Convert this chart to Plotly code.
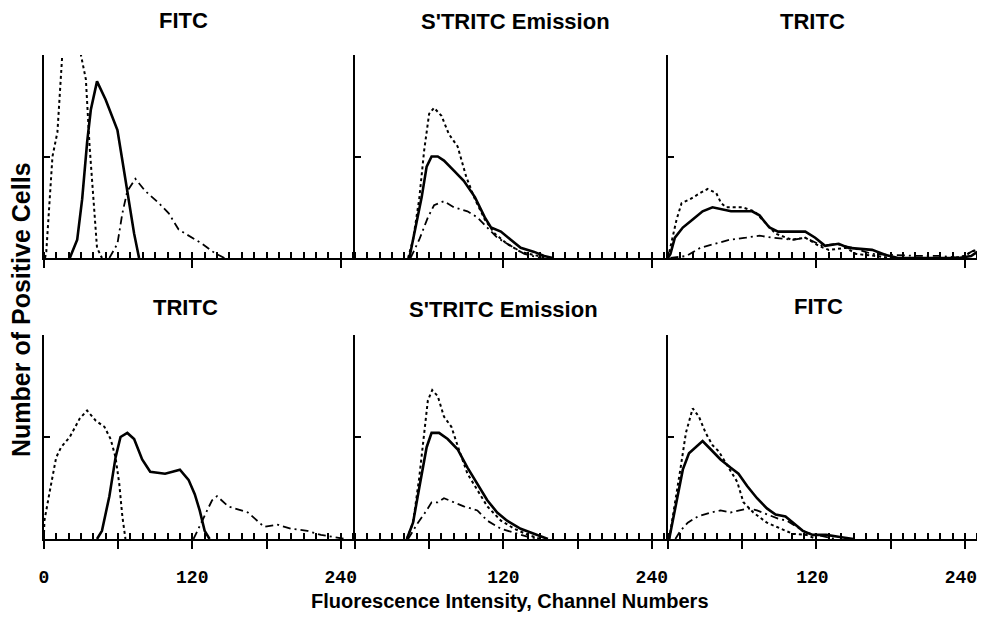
import plotly.graph_objects as go

# ---------------- data (channel number, relative cell count) ----------------
titles = ["FITC", "S'TRITC Emission", "TRITC", "TRITC", "S'TRITC Emission", "FITC"]

# Panel 1: top-left FITC
p1_dot_x = [1, 2, 7, 11, 15, 22, 30, 34, 37, 41, 43, 47]
p1_dot_y = [0, 3, 50, 62, 101, 140, 100, 88, 55, 20, 5, 0]
p1_sol_x = [21, 27, 31, 35, 38, 43, 50, 55, 59.5, 63.5, 67.5, 73, 77]
p1_sol_y = [0, 9, 29, 57, 73, 87, 78, 70, 63, 48, 32, 12, 0]
p1_dd_x = [53, 59.5, 63.5, 67.5, 74, 82, 93, 101, 109, 120, 128, 138, 146]
p1_dd_y = [0, 7, 22, 33, 39, 33, 27, 22, 14, 10, 7, 2.5, 0]

# Panel 2: top-middle S'TRITC Emission
p2_dot_x = [43, 47, 52, 56, 60, 64, 70, 76, 83, 90, 97, 105, 113, 123, 134, 148, 155]
p2_dot_y = [0, 9, 29, 53, 71, 74, 70, 61, 55, 40, 29, 19, 12, 7, 3, 1, 0]
p2_sol_x = [44, 48, 54, 58, 62, 67, 72, 80, 88, 97, 105, 110, 118, 126, 134, 145, 153, 160]
p2_sol_y = [0, 12, 30, 45, 50, 50, 48, 43, 38, 30, 20, 15, 13, 9, 5, 3, 1, 0]
p2_dd_x = [45, 52, 59, 64, 72, 80, 91, 99, 107, 115, 126, 137, 150]
p2_dd_y = [0, 9, 20, 26, 28, 25, 23, 20, 15, 10, 6, 2, 0]

# Panel 3: top-right TRITC
p3_dot_x = [0, 2, 7, 11, 18, 26, 32, 39, 43, 47, 60, 70, 79, 87, 100, 111, 122, 130, 144, 152, 168, 180, 230, 240, 245, 250]
p3_dot_y = [0, 5, 19, 27, 29, 32, 34, 32, 27, 25, 25, 23, 17, 12, 9, 10, 6, 4, 5, 2, 1, 0, 0, 1, 3, 4]
p3_sol_x = [0, 2, 5.6, 12, 20, 28, 36, 44, 51, 68, 74, 82, 89, 101, 111, 119, 127, 138, 146, 165, 176, 186, 235, 245, 250]
p3_sol_y = [0, 2, 10, 15, 19, 23, 25, 24, 23, 23, 21, 15, 13, 13, 13, 10, 6, 7, 5, 4, 1.5, 0, 0, 1, 3]
p3_dd_x = [2, 15, 26, 39, 50, 63, 74, 84, 101, 111, 125, 136, 149, 165, 181, 202, 221, 236, 248]
p3_dd_y = [0, 1, 5, 7, 9, 10, 11, 10, 9, 10, 6, 7, 5, 2, 1.5, 1, 1, 0, 4]

# Panel 4: bottom-left TRITC
p4_dot_x = [0, 0.5, 5, 10, 14, 21, 29, 35, 42, 49, 54, 58, 61, 63.5, 66]
p4_dot_y = [0, 9, 24, 40, 45, 50, 59, 63, 58, 55, 49, 40, 27, 11, 0]
p4_sol_x = [43, 47, 53, 58, 62, 67.5, 73, 79.5, 86, 98, 104, 110, 117, 122, 126, 130, 134]
p4_sol_y = [0, 4, 21, 40, 50, 52, 49, 39, 33, 32, 33, 34, 29, 22, 14, 4, 0]
p4_dd_x = [121, 126, 132, 136, 140, 149, 165, 178, 189, 200, 213, 224, 235, 244]
p4_dd_y = [0, 6, 14, 19, 21, 16, 13, 6, 7, 5, 4, 2, 1, 0]

# Panel 5: bottom-middle S'TRITC Emission
p5_dot_x = [42, 47, 52, 56, 59, 62.5, 67, 72, 78, 84, 91, 99, 107, 118, 129, 140, 150]
p5_dot_y = [0, 8, 30, 53, 68, 73, 70, 60, 55, 44, 32, 24, 16, 9, 5, 2, 0]
p5_sol_x = [42, 47, 52, 58, 62, 68, 75, 83, 91, 99, 107, 115, 123, 134, 145, 156]
p5_sol_y = [0, 8, 25, 45, 52, 52, 49, 44, 35, 27, 19, 13, 9, 5, 2.5, 0]
p5_dd_x = [43, 51, 58, 62, 67, 72, 80, 88, 99, 107, 118, 129, 140, 150]
p5_dd_y = [0, 8, 14, 18, 18, 20, 18, 16, 14, 9, 5, 3, 1, 0]

# Panel 6: bottom-right FITC
p6_dot_x = [1, 6, 10, 14.5, 20, 25, 30.5, 36, 41, 48, 56, 61, 69, 80, 91, 101, 112, 120]
p6_dot_y = [0, 18, 34, 52, 64, 60, 52, 46, 43, 36, 28, 18, 13, 8, 5, 2.5, 2, 0]
p6_sol_x = [1, 6, 12, 17, 24, 28, 34.5, 42.5, 50.5, 57, 64, 72, 80, 87, 95, 101, 109, 117, 128, 139, 150]
p6_sol_y = [0, 16, 34, 42, 46, 48, 44, 39, 35, 32, 26, 20, 15, 12, 11, 8, 4, 2, 2, 1, 0]
p6_dd_x = [6, 10, 16, 24, 34.5, 42.5, 50.5, 58.6, 65, 72, 80, 89, 96, 104, 112, 120, 128, 135]
p6_dd_y = [0, 4, 8, 11, 13, 14, 13, 14, 15, 14, 12, 10, 9, 6, 3, 2, 1, 0]

tick_vals = [0, 60, 120, 180, 240]
tick_text_first = ["0", "", "120", "", "240"]
tick_text_other = ["", "", "120", "", "240"]

panels = [
    (p1_dot_x, p1_dot_y, p1_sol_x, p1_sol_y, p1_dd_x, p1_dd_y),
    (p2_dot_x, p2_dot_y, p2_sol_x, p2_sol_y, p2_dd_x, p2_dd_y),
    (p3_dot_x, p3_dot_y, p3_sol_x, p3_sol_y, p3_dd_x, p3_dd_y),
    (p4_dot_x, p4_dot_y, p4_sol_x, p4_sol_y, p4_dd_x, p4_dd_y),
    (p5_dot_x, p5_dot_y, p5_sol_x, p5_sol_y, p5_dd_x, p5_dd_y),
    (p6_dot_x, p6_dot_y, p6_sol_x, p6_sol_y, p6_dd_x, p6_dd_y),
]

# ---------------- layout geometry ----------------
# page is 985x624; the html body has an 8px margin, so the figure starts at (8, 8)
PAGE_W, PAGE_H = 985, 624
OFF = 8
W, H = PAGE_W - OFF, PAGE_H - OFF
X_RANGE = [0, 252]
Y_RANGE = [0, 100]
col_left_px = [39, 352, 667]          # page pixels
col_width_px = 313.7
row_px = [(55, 258), (335, 539)]      # (top, baseline) page pixels


def px(x):
    return (x - OFF) / W


def py(y):
    return 1 - (y - OFF) / H


fig = go.Figure()
layout = {}
for i, (dx, dy, sx, sy, ddx, ddy) in enumerate(panels):
    n = i + 1
    xa, ya = ("x", "y") if n == 1 else (f"x{n}", f"y{n}")
    fig.add_trace(go.Scatter(x=dx, y=dy, xaxis=xa, yaxis=ya, mode="lines",
                             line=dict(color="black", width=2, dash="dot")))
    fig.add_trace(go.Scatter(x=sx, y=sy, xaxis=xa, yaxis=ya, mode="lines",
                             line=dict(color="black", width=2.6)))
    fig.add_trace(go.Scatter(x=ddx, y=ddy, xaxis=xa, yaxis=ya, mode="lines",
                             line=dict(color="black", width=1.8, dash="8px,4px,2px,4px")))
    r, c = divmod(i, 3)
    left = col_left_px[c]
    top, base = row_px[r]
    xdom = [max(0, px(left)), min(1, px(left + col_width_px))]
    ydom = [py(base), py(top)]
    bottom_row = r == 1
    xkey = "xaxis" if n == 1 else f"xaxis{n}"
    ykey = "yaxis" if n == 1 else f"yaxis{n}"
    layout[xkey] = dict(
        domain=xdom, anchor=ya, range=X_RANGE, showgrid=False, zeroline=False,
        showline=True, linecolor="black", linewidth=2,
        tickmode="array", tickvals=tick_vals,
        ticktext=(tick_text_first if c == 0 else tick_text_other),
        showticklabels=bottom_row,
        ticks="outside", ticklen=8, tickwidth=2, tickcolor="black",
        minor=dict(dtick=10, tick0=0, ticks="inside", ticklen=6, tickwidth=1.6,
                   tickcolor="black", showgrid=False),
        tickfont=dict(family="Liberation Mono", size=18, color="black", weight="bold"),
        ticklabelstandoff=12,
        ticklabelshift=(-4 if c == 2 else 0),
        ticklabeloverflow="allow",
        fixedrange=True,
    )
    layout[ykey] = dict(
        domain=ydom, anchor=xa, range=Y_RANGE, showgrid=False, zeroline=False,
        showline=True, linecolor="black", linewidth=2,
        tickmode="array", tickvals=[50, 100], showticklabels=False,
        ticks="inside", ticklen=6, tickwidth=2, tickcolor="black",
        fixedrange=True,
    )

# subplot titles (page pixel centres)
title_pos = [(180, 21), (514, 22), (812, 22), (182, 307), (502, 309), (818, 306)]
annotations = []
for t, (tx, ty) in zip(titles, title_pos):
    annotations.append(dict(text=f"<b>{t}</b>", x=px(tx), y=py(ty), xref="paper", yref="paper",
                            xanchor="center", yanchor="middle", showarrow=False,
                            font=dict(family="Liberation Sans", size=22, color="black")))
annotations.append(dict(text="<b>Fluorescence Intensity, Channel Numbers</b>", x=px(508), y=py(601),
                        xref="paper", yref="paper", xanchor="center", yanchor="middle", showarrow=False,
                        font=dict(family="Liberation Sans", size=20, color="black")))
annotations.append(dict(text="<b>Number of Positive Cells</b>", x=px(16), y=py(309),
                        xref="paper", yref="paper", xanchor="center", yanchor="middle", showarrow=False,
                        textangle=-90,
                        font=dict(family="Liberation Sans", size=25, color="black")))

fig.update_layout(
    width=W, height=H, autosize=False,
    margin=dict(l=0, r=0, t=0, b=0),
    paper_bgcolor="white", plot_bgcolor="white",
    showlegend=False,
    annotations=annotations,
    **layout,
)

fig.write_html("out.html", config={"displayModeBar": False})
